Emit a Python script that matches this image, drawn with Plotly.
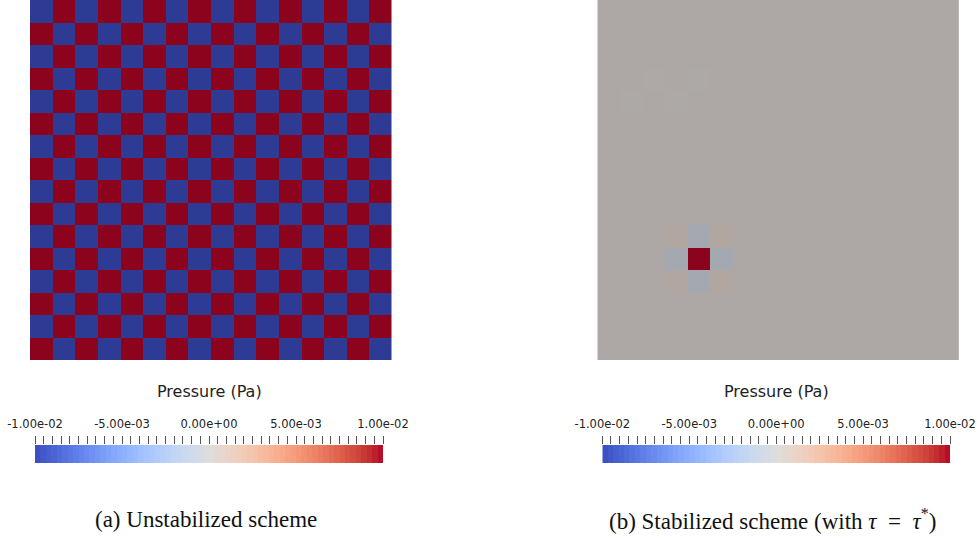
import numpy as np
import plotly.graph_objects as go

W, H = 979, 540

# Pressure field of the unstabilized run (Pa): +1 / -1 checkerboard scaled by P_AMP
P_AMP = 1.0e-2
UNSTAB_SIGN = [
    [-1, 1, -1, 1, -1, 1, -1, 1, -1, 1, -1, 1, -1, 1, -1, 1],
    [1, -1, 1, -1, 1, -1, 1, -1, 1, -1, 1, -1, 1, -1, 1, -1],
    [-1, 1, -1, 1, -1, 1, -1, 1, -1, 1, -1, 1, -1, 1, -1, 1],
    [1, -1, 1, -1, 1, -1, 1, -1, 1, -1, 1, -1, 1, -1, 1, -1],
    [-1, 1, -1, 1, -1, 1, -1, 1, -1, 1, -1, 1, -1, 1, -1, 1],
    [1, -1, 1, -1, 1, -1, 1, -1, 1, -1, 1, -1, 1, -1, 1, -1],
    [-1, 1, -1, 1, -1, 1, -1, 1, -1, 1, -1, 1, -1, 1, -1, 1],
    [1, -1, 1, -1, 1, -1, 1, -1, 1, -1, 1, -1, 1, -1, 1, -1],
    [-1, 1, -1, 1, -1, 1, -1, 1, -1, 1, -1, 1, -1, 1, -1, 1],
    [1, -1, 1, -1, 1, -1, 1, -1, 1, -1, 1, -1, 1, -1, 1, -1],
    [-1, 1, -1, 1, -1, 1, -1, 1, -1, 1, -1, 1, -1, 1, -1, 1],
    [1, -1, 1, -1, 1, -1, 1, -1, 1, -1, 1, -1, 1, -1, 1, -1],
    [-1, 1, -1, 1, -1, 1, -1, 1, -1, 1, -1, 1, -1, 1, -1, 1],
    [1, -1, 1, -1, 1, -1, 1, -1, 1, -1, 1, -1, 1, -1, 1, -1],
    [-1, 1, -1, 1, -1, 1, -1, 1, -1, 1, -1, 1, -1, 1, -1, 1],
    [1, -1, 1, -1, 1, -1, 1, -1, 1, -1, 1, -1, 1, -1, 1, -1],
]

# Pressure field of the stabilized run (Pa): near-uniform background plus a local bump
STAB_BACKGROUND = 3.0e-4
STAB_CELLS = [  # (row from top, column, pressure)
    (11, 4, 1.2e-2),
    (10, 4, -6.0e-4), (12, 4, -6.0e-4), (11, 3, -6.0e-4), (11, 5, -6.0e-4),
    (10, 3, 7.0e-4), (10, 5, 7.0e-4), (12, 3, 7.0e-4), (12, 5, 7.0e-4),
    (3, 2, 2.0e-4), (3, 4, 2.2e-4), (4, 1, 2.0e-4), (4, 3, 2.2e-4),
]

# Colour legend
P_MIN, P_MAX = -1.0e-2, 1.0e-2
MAJOR_TICKS = [-1.0e-2, -5.0e-3, 0.0, 5.0e-3, 1.0e-2]
MAJOR_LABELS = ["-1.00e-02", "-5.00e-03", "0.00e+00", "5.00e-03", "1.00e-02"]
MINOR_STEP = 5.0e-4
LEGEND_TITLE = "Pressure (Pa)"
CAPTIONS = ["(a) Unstabilized scheme",
            "(b) Stabilized scheme (with <i>τ</i>\u2002=\u2002<i>τ</i><sup>*</sup>)"]

# Diverging cool-to-warm map
COOLWARM = [
    (59, 76, 192), (68, 90, 204), (77, 104, 215), (87, 117, 225), (98, 130, 234),
    (108, 142, 241), (119, 154, 247), (130, 165, 251), (141, 176, 254), (152, 185, 255),
    (163, 194, 255), (174, 201, 253), (184, 208, 249), (194, 213, 244), (204, 217, 238),
    (213, 219, 230), (221, 221, 221), (229, 216, 209), (236, 211, 197), (241, 204, 185),
    (245, 196, 173), (247, 187, 160), (247, 177, 148), (247, 166, 135), (244, 154, 123),
    (241, 141, 111), (236, 127, 99), (229, 112, 88), (222, 96, 77), (213, 80, 66),
    (203, 62, 56), (192, 40, 47), (180, 4, 38),
]


def make_scale(shade):
    n = len(COOLWARM) - 1
    return [[i / n, "rgb(%d,%d,%d)" % tuple(round(c * shade) for c in rgb)]
            for i, rgb in enumerate(COOLWARM)]


LIT_SCALE = make_scale(0.77)   # surface colours under scene lighting
BAR_SCALE = make_scale(1.0)

unstab = [[s * P_AMP for s in row] for row in UNSTAB_SIGN]
n_rows, n_cols = len(UNSTAB_SIGN), len(UNSTAB_SIGN[0])
stab = [[STAB_BACKGROUND] * n_cols for _ in range(n_rows)]
for r, c, v in STAB_CELLS:
    stab[r][c] = v

fig = go.Figure()


def px_dom(a, b):
    return [a / W, b / W]


def py_dom(top, bottom):
    return [1 - bottom / H, 1 - top / H]


panels = [
    dict(z=unstab, x0=30.0, x1=391.5, cb=(35.0, 383.0), cx=206.0),
    dict(z=stab, x0=597.3, x1=958.8, cb=(602.3, 950.0), cx=772.0),
]

n_strip = 64
strip_x = [P_MIN + (i + 0.5) * (P_MAX - P_MIN) / n_strip for i in range(n_strip)]
minor_vals = list(np.arange(P_MIN, P_MAX + MINOR_STEP / 2, MINOR_STEP))
SANS = "DejaVu Sans"

for k, p in enumerate(panels):
    xa = 3 * k + 1
    xs = "" if xa == 1 else str(xa)
    fig.add_trace(go.Heatmap(
        z=p["z"], colorscale=LIT_SCALE, zmin=P_MIN, zmax=P_MAX, showscale=False,
        xaxis="x" + xs, yaxis="y" + xs, hoverinfo="skip"))
    fig.layout["xaxis" + xs] = dict(domain=px_dom(p["x0"], p["x1"]), anchor="y" + xs,
                                    range=[-0.5, n_cols - 0.5], visible=False,
                                    automargin=False)
    fig.layout["yaxis" + xs] = dict(domain=py_dom(0, 360), anchor="x" + xs,
                                    range=[n_rows - 0.5, -0.5], visible=False,
                                    automargin=False)

    # colour legend strip
    bx = str(xa + 1)
    fig.add_trace(go.Heatmap(
        z=[strip_x], x=strip_x, y=[0], colorscale=BAR_SCALE, zmin=P_MIN, zmax=P_MAX,
        showscale=False, xaxis="x" + bx, yaxis="y" + bx, hoverinfo="skip"))
    tick_common = dict(range=[P_MIN, P_MAX], showgrid=False, zeroline=False,
                       showline=False, fixedrange=True, automargin=False)
    fig.layout["xaxis" + bx] = dict(
        domain=px_dom(p["cb"][0], p["cb"][1]), anchor="y" + bx, side="top",
        tickmode="array", tickvals=MAJOR_TICKS, ticktext=MAJOR_LABELS,
        ticks="outside", ticklen=8, tickwidth=1, tickcolor="#555",
        tickfont=dict(family=SANS, size=11.5, color="#222"),
        ticklabelstandoff=3,
        minor=dict(tickmode="array", tickvals=minor_vals, ticks="outside",
                   ticklen=8, tickwidth=1, tickcolor="#555"),
        **tick_common)
    fig.layout["yaxis" + bx] = dict(domain=py_dom(445, 463), anchor="x" + bx,
                                    range=[-0.5, 0.5], visible=False,
                                    automargin=False)
    # longer interior ticks reaching into the strip
    ox = str(xa + 2)
    fig.layout["xaxis" + ox] = dict(
        overlaying="x" + bx, anchor="y" + bx, side="top",
        tickmode="array", tickvals=MAJOR_TICKS[1:-1], ticks="inside", ticklen=7,
        tickwidth=1, tickcolor="#444", showticklabels=False, **tick_common)

    fig.add_annotation(x=(p["cb"][0] + p["cb"][1]) / 2 / W, y=1 - 391 / H,
                       xref="paper", yref="paper", xanchor="center", yanchor="middle",
                       text=LEGEND_TITLE, showarrow=False,
                       font=dict(family=SANS, size=16, color="#222"))
    fig.add_annotation(x=p["cx"] / W, y=1 - 519 / H, xref="paper", yref="paper",
                       xanchor="center", yanchor="middle",
                       text=CAPTIONS[k], showarrow=False,
                       font=dict(family="Liberation Serif", size=23, color="#111"))

fig.update_layout(width=W, height=H,
                  margin=dict(l=0, r=0, t=0, b=0, pad=0, autoexpand=False),
                  paper_bgcolor="white", plot_bgcolor="white", showlegend=False)
fig.write_html("out.html")
